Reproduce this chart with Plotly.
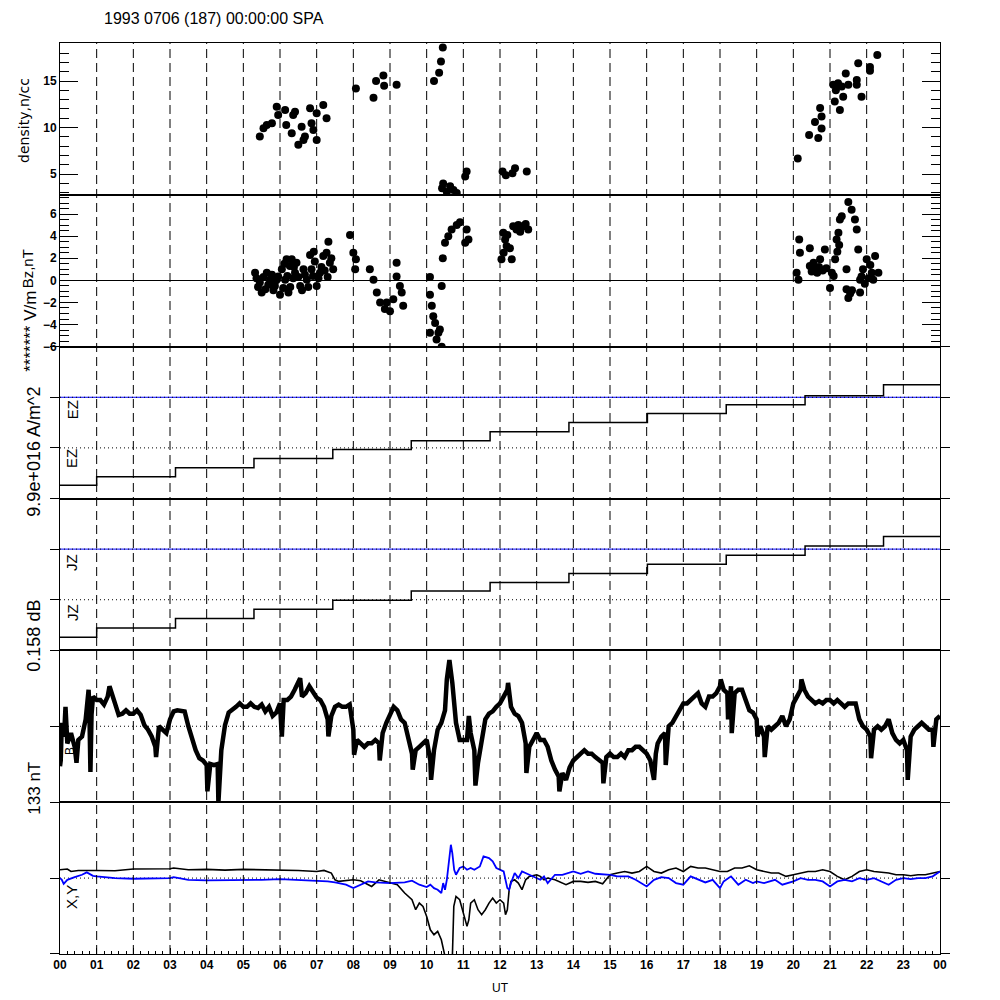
import plotly.graph_objects as go
from plotly.subplots import make_subplots

TITLE = "1993 0706 (187) 00:00:00 SPA"
hour_labels = ["00", "01", "02", "03", "04", "05", "06", "07", "08", "09", "10", "11",
               "12", "13", "14", "15", "16", "17", "18", "19", "20", "21", "22", "23", "00"]
hour_ticks = list(range(25))
dash_hours = list(range(1, 24))

# ---- density (n/cc) ----
dens_t = [5.45, 5.55, 5.64, 5.78, 5.91, 5.95, 6.14, 6.17, 6.41, 6.36, 6.32, 6.50, 6.64, 6.59, 6.68,
          6.82, 6.86, 7.00, 7.00, 7.18, 7.27, 6.91,
          8.07, 8.55, 8.62, 8.82, 8.84, 9.18,
          10.20, 10.34, 10.39, 10.44,
          10.42, 10.45, 10.55, 10.64, 10.73, 10.82, 11.05, 11.09,
          12.07, 12.16, 12.34, 12.41, 12.73,
          20.12, 20.43, 20.68, 20.59, 20.73, 20.77, 20.77, 21.13, 21.09, 21.22, 21.27, 21.36,
          21.43, 21.50, 21.73, 21.77, 21.86, 22.09, 22.09, 22.29, 21.16, 21.32, 21.73]
dens_v = [9.04, 9.94, 10.29, 10.47, 12.25, 11.36, 11.9, 10.29, 11.71, 11.36, 9.4, 8.15, 8.68, 10.1, 9.04,
          12.08, 10.47, 8.68, 11.54, 12.43, 11.0, 9.75,
          14.2, 13.2, 15.0, 15.6, 14.5, 14.6,
          15.0, 15.9, 17.1, 18.6,
          3.5, 4.0, 3.1, 3.7, 3.3, 3.0, 4.75, 5.3,
          5.3, 4.9, 5.1, 5.65, 5.3,
          6.68, 9.2, 8.9, 10.6, 12.1, 9.9, 11.2, 12.8, 14.6, 14.75, 11.9, 13.3,
          15.8, 14.6, 15.1, 16.9, 13.3, 16.5, 16.1, 17.8, 14.0, 14.4, 14.6]

# ---- Bz (nT) ----
bz_t = [5.32, 5.36, 5.45, 5.50, 5.64, 5.73, 5.86, 5.95, 6.00, 6.05, 6.14, 6.18, 6.23, 6.27, 6.32,
        6.41, 6.45, 6.55, 6.64, 6.73, 6.82, 6.86, 6.95, 7.00, 7.09, 7.18, 7.27, 7.32, 7.36, 7.45,
        5.40, 5.55, 5.60, 5.68, 5.78, 5.82, 5.90, 6.09, 6.20, 6.28, 6.36, 6.50, 6.60, 6.68,
        6.77, 6.90, 7.05, 7.13, 7.22, 7.40, 6.12, 6.38, 6.92, 7.30,
        7.91, 8.00, 8.05, 8.07, 8.45, 8.55, 8.64, 8.73, 8.86, 8.91, 9.00, 9.09, 9.18, 9.18, 9.27,
        9.32, 9.36,
        10.09, 10.09, 10.14, 10.18, 10.23, 10.09, 10.32, 10.36, 10.41, 10.41, 10.27,
        10.44, 10.50, 10.59, 10.68, 10.82, 10.91, 11.09, 11.14, 11.05,
        12.04, 12.09, 12.14, 12.18, 12.27, 12.32, 12.36, 12.50, 12.63, 12.77,
        12.10, 12.20, 12.45, 12.55, 12.70,
        20.09, 20.14, 20.16, 20.18, 20.45, 20.45, 20.59, 20.73, 20.86, 21.00, 21.05, 21.14,
        21.18, 21.23, 21.27, 21.32, 21.45, 21.45, 21.50, 21.50, 21.59, 21.68, 21.73, 21.77,
        21.82, 21.82, 21.86, 22.00, 22.14, 22.18, 22.23, 22.32,
        20.50, 20.55, 20.65, 20.70, 20.80, 20.90, 21.10, 21.20, 21.25, 21.90, 21.95, 22.05,
        22.10, 21.60, 21.55]
bz_v = [0.7, 0.2, -0.2, -1.1, 0.7, 0.06, -0.5, 0.35, -1.3, 1.0, 0.06, 1.9, -1.1, 1.3, 1.9,
        0.7, 1.6, -0.5, 1.0, 0.06, 2.3, 1.0, 1.7, -0.5, 0.7, 2.2, 2.5, 3.5, 1.6, 1.0,
        -0.6, 0.3, -0.8, -0.4, 0.5, -0.9, 0.0, -0.7, 0.4, -0.6, 0.2, 0.3, -0.9, 0.5,
        -0.6, 0.4, 0.2, 1.2, 0.9, 2.0, 1.5, 1.2, 2.6, 0.3,
        4.1, 2.5, 1.0, 1.9, 1.0, 0.06, -1.1, -2.0, -2.6, -2.0, -2.8, -1.7, 1.6, 0.35, -0.5,
        -1.1, -2.3,
        0.3, -1.3, -2.3, -3.25, -3.85, -4.75, -4.75, -4.45, -0.5, -6.0, -5.35,
        2.0, 3.4, 4.0, 4.6, 5.0, 5.25, 4.6, 3.7, 3.4,
        1.9, 4.3, 3.7, 3.1, 2.9, 1.9, 4.9, 5.0, 4.9, 4.6,
        2.5, 4.1, 4.6, 4.4, 5.1,
        0.7, 0.06, 3.7, 2.5, 2.9, 1.3, 1.0, 1.9, 2.8, -0.7, 0.7, 1.9,
        3.7, 4.3, 5.5, 5.8, 1.0, -0.8, -1.6, 7.1, 6.4, 5.5, 4.6, 2.8,
        -1.1, 0.06, 0.35, 1.9, 0.7, 0.06, 2.2, 0.7,
        0.8, 1.6, 0.7, 1.2, 0.9, 1.1, 0.4, 2.6, 3.2, 1.0, -0.3, 0.2,
        1.4, -0.9, -1.2]

# ---- EZ / JZ staircases (panel units) ----
step_t = [0.0, 1.0, 3.15, 5.29, 7.44, 9.58, 11.73, 13.88, 16.02, 18.17, 20.32, 22.46, 24.0]
ez_v = [0.26, 0.43, 0.61, 0.79, 0.97, 1.14, 1.32, 1.50, 1.68, 1.85, 2.03, 2.25, 2.25]
jz_v = [0.26, 0.44, 0.63, 0.81, 0.99, 1.17, 1.34, 1.52, 1.70, 1.88, 2.06, 2.25, 2.25]
ref_blue = 2.0
ref_dot = [1.0, 2.0]

# ---- B (nT, deviation) ----
b_t = [0.00, 0.02, 0.05, 0.08, 0.12, 0.15, 0.20, 0.30, 0.40, 0.45,
       0.50, 0.60, 0.70, 0.78, 0.80, 0.83, 0.86, 0.90, 1.00, 1.10,
       1.20, 1.30, 1.35, 1.40, 1.50, 1.60, 1.70, 1.80, 1.90, 2.00,
       2.10, 2.20, 2.30, 2.40, 2.50, 2.60, 2.62, 2.70, 2.80, 2.90,
       3.00, 3.10, 3.20, 3.30, 3.40, 3.50, 3.60, 3.70, 3.80, 3.90,
       4.00, 4.02, 4.10, 4.20, 4.30, 4.32, 4.40, 4.50, 4.60, 4.70,
       4.80, 4.90, 5.00, 5.10, 5.20, 5.30, 5.40, 5.50, 5.60, 5.70,
       5.80, 5.90, 6.00, 6.05, 6.10, 6.20, 6.30, 6.40, 6.50, 6.55,
       6.60, 6.70, 6.80, 6.90, 7.00, 7.10, 7.20, 7.30, 7.32, 7.40,
       7.50, 7.60, 7.70, 7.80, 7.90, 8.00, 8.02, 8.10, 8.20, 8.30,
       8.40, 8.50, 8.60, 8.70, 8.72, 8.80, 8.90, 9.00, 9.10, 9.20,
       9.30, 9.40, 9.50, 9.60, 9.62, 9.70, 9.80, 9.90, 10.00, 10.10,
       10.12, 10.20, 10.30, 10.40, 10.50, 10.55, 10.60, 10.62, 10.70, 10.80,
       10.90, 11.00, 11.10, 11.15, 11.20, 11.30, 11.33, 11.40, 11.50, 11.60,
       11.70, 11.80, 11.90, 12.00, 12.10, 12.20, 12.22, 12.30, 12.40, 12.50,
       12.60, 12.70, 12.72, 12.80, 12.90, 13.00, 13.10, 13.20, 13.30, 13.40,
       13.50, 13.60, 13.62, 13.70, 13.80, 13.90, 14.00, 14.10, 14.20, 14.30,
       14.40, 14.50, 14.60, 14.70, 14.80, 14.82, 14.90, 15.00, 15.10, 15.20,
       15.30, 15.40, 15.50, 15.60, 15.70, 15.80, 15.90, 16.00, 16.10, 16.20,
       16.25, 16.30, 16.40, 16.50, 16.52, 16.60, 16.70, 16.80, 16.90, 17.00,
       17.10, 17.20, 17.30, 17.40, 17.50, 17.60, 17.70, 17.80, 17.90, 18.00,
       18.02, 18.10, 18.20, 18.22, 18.30, 18.32, 18.40, 18.50, 18.60, 18.70,
       18.80, 18.90, 19.00, 19.02, 19.10, 19.20, 19.22, 19.30, 19.40, 19.50,
       19.60, 19.70, 19.80, 19.90, 20.00, 20.10, 20.20, 20.22, 20.30, 20.40,
       20.50, 20.60, 20.70, 20.80, 20.90, 21.00, 21.10, 21.20, 21.30, 21.40,
       21.50, 21.60, 21.70, 21.80, 21.90, 22.00, 22.10, 22.12, 22.20, 22.30,
       22.40, 22.50, 22.60, 22.70, 22.80, 22.90, 23.00, 23.10, 23.12, 23.20,
       23.30, 23.40, 23.50, 23.60, 23.70, 23.80, 23.82, 23.90, 24.00]
b_v = [-35, -30, 3, -9, -3, 17, -15, -6, -18, -32,
       -12, -9, 6, 32, 17, -40, 10, 26, 23, 23,
       19, 26, 35, 29, 20, 10, 11, 14, 11, 11,
       14, 10, 1, -3, -9, -18, -27, 0, -3, -6,
       6, 13, 14, 13, 13, 0, -12, -21, -28, -30,
       -34, -57, -33, -34, -33, -67, -21, 1, 12, 14,
       17, 20, 17, 17, 20, 17, 16, 19, 13, 17,
       9, 12, 20, -9, 23, 23, 26, 32, 38, 42,
       26, 29, 35, 29, 25, 23, 17, 6, -9, 9,
       17, 19, 17, 17, 19, -3, -25, -12, -15, -18,
       -15, -15, -12, -15, -30, -6, 3, 11, 17, 14,
       6, 3, -9, -24, -38, -21, -18, -15, -12, -30,
       -47, -21, -3, 3, 14, 41, 53, 58, 38, 3,
       -12, -12, -12, 9, -6, -21, -52, -32, -12, 6,
       11, 13, 17, 20, 26, 32, 38, 17, 11, 9,
       3, -15, -41, -18, -12, -6, -12, -12, -18, -30,
       -38, -44, -57, -41, -47, -36, -30, -27, -24, -21,
       -24, -24, -27, -30, -32, -50, -27, -24, -27, -27,
       -24, -27, -21, -21, -18, -18, -21, -24, -30, -47,
       -24, -15, -9, -6, -34, 0, 3, 9, 14, 20,
       20, 23, 26, 29, 20, 17, 26, 26, 29, 35,
       41, 32, 29, 6, 35, -6, 29, 32, 32, 23,
       14, 12, 6, -9, 0, -9, -27, 0, -3, 0,
       3, 9, 0, 6, 20, 26, 32, 41, 32, 26,
       23, 20, 22, 20, 23, 23, 20, 23, 20, 17,
       20, 20, 20, 6, 0, -3, -9, -28, -3, 0,
       -3, 0, 6, -6, -12, -15, -12, -21, -47, -9,
       -3, 0, 3, 0, -3, -3, -18, 6, 9]

# ---- X (black) and Y (blue), nT deviation ----
x_t = [0.0, 0.2, 0.3, 0.5, 1.0, 1.5, 2.0, 2.5, 3.0, 3.1,
       3.5, 4.0, 4.5, 5.0, 5.5, 6.0, 6.5, 7.0, 7.2, 7.4,
       7.5, 7.6, 8.0, 8.2, 8.5, 8.7, 9.0, 9.2, 9.4, 9.5,
       9.6, 9.7, 9.8, 9.9, 10.0, 10.1, 10.2, 10.3, 10.4, 10.5,
       10.7, 10.74, 10.8, 10.9, 11.0, 11.1, 11.15, 11.2, 11.3, 11.4,
       11.5, 11.6, 11.7, 11.8, 11.9, 12.0, 12.1, 12.15, 12.2, 12.25,
       12.3, 12.4, 12.5, 12.6, 12.7, 12.8, 13.0, 13.1, 13.2, 13.3,
       13.5, 13.7, 13.8, 14.0, 14.2, 14.4, 14.6, 14.8, 15.0, 15.2,
       15.4, 15.6, 15.8, 16.0, 16.2, 16.4, 16.6, 16.8, 17.0, 17.2,
       17.4, 17.6, 17.8, 18.0, 18.2, 18.4, 18.6, 18.8, 19.0, 19.2,
       19.4, 19.6, 19.8, 20.0, 20.2, 20.4, 20.6, 20.8, 21.0, 21.2,
       21.4, 21.6, 21.8, 22.0, 22.2, 22.4, 22.6, 22.8, 23.0, 23.2,
       23.4, 23.6, 23.8, 24.0]
x_v = [7.3, 7.9, 5.8, 6.7, 6.7, 6.4, 7.9, 7.9, 8.2, 8.8,
       7.3, 7.6, 7.0, 7.6, 7.3, 7.3, 6.7, 5.8, 6.7, 4.4,
       -1.5, -2.9, -1.5, -2.3, -7.3, -1.5, -4.4, -5.8, -13.1, -16.1,
       -19.0, -27.7, -21.9, -24.8, -33.6, -45.3, -49.6, -46.7, -54.0, -68.6,
       -70.0, -24.8, -16.1, -19.0, -30.7, -42.3, -36.5, -21.9, -19.0, -27.7,
       -32.1, -27.7, -21.9, -17.5, -21.9, -19.0, -21.9, -32.1, -27.7, -10.2,
       -2.9, -1.5, -4.4, -10.2, -1.5, 1.5, 2.9, 1.5, -1.5, 0.0,
       -1.5, -4.4, -5.8, -2.9, -2.9, -3.8, -2.9, -5.0, 2.9, 4.4,
       5.8, 4.4, 5.8, 10.2, 5.8, 4.4, 7.3, 8.8, 5.8, 10.2,
       8.8, 8.8, 7.3, 5.8, 5.8, 8.8, 8.8, 10.8, 7.3, 5.8,
       4.4, 4.4, 1.5, 2.9, 4.4, 5.8, 5.8, 7.3, 5.8, 1.5,
       -1.5, 1.5, 5.8, 7.3, 5.8, 5.0, 4.4, 2.9, 2.9, 2.0,
       2.9, 2.9, 4.4, 5.8]
y_t = [0.0, 0.05, 0.1, 0.2, 0.4, 0.6, 0.73, 0.9, 1.0, 1.5,
       2.0, 2.5, 3.0, 3.1, 3.5, 4.0, 4.5, 5.0, 5.5, 6.0,
       6.5, 7.0, 7.3, 7.5, 7.8, 8.0, 8.2, 8.4, 8.6, 9.0,
       9.4, 9.6, 9.8, 10.0, 10.1, 10.2, 10.3, 10.4, 10.45, 10.5,
       10.55, 10.6, 10.66, 10.7, 10.75, 10.8, 10.9, 11.0, 11.1, 11.2,
       11.3, 11.45, 11.55, 11.7, 11.8, 11.9, 12.0, 12.1, 12.2, 12.25,
       12.3, 12.4, 12.5, 12.6, 12.8, 13.0, 13.1, 13.2, 13.3, 13.5,
       13.7, 14.0, 14.2, 14.4, 14.6, 15.0, 15.2, 15.5, 15.7, 16.0,
       16.2, 16.4, 16.6, 16.8, 17.0, 17.2, 17.4, 17.6, 17.8, 18.0,
       18.1, 18.3, 18.5, 18.7, 18.9, 19.0, 19.2, 19.5, 19.7, 20.0,
       20.2, 20.4, 20.6, 20.8, 21.0, 21.2, 21.4, 21.6, 21.8, 22.0,
       22.2, 22.4, 22.6, 22.8, 23.0, 23.2, 23.4, 23.6, 23.8, 24.0]
y_v = [0.0, -1.5, -5.0, -1.5, 0.9, 2.9, 5.0, 2.0, 1.5, 0.0,
       -0.6, -0.6, 0.0, 0.9, -1.5, -2.0, -2.0, -1.8, -1.5, -0.9,
       -1.5, -2.3, -2.9, -3.8, -5.8, -8.8, -5.8, -2.9, -3.8, -4.4,
       -3.8, -2.3, -5.8, -7.9, -5.8, -8.8, -10.2, -13.1, -4.4, -10.2,
       -1.5, 14.6, 29.2, 21.9, 7.3, 2.9, 8.8, 10.2, 7.3, 8.8,
       7.3, 10.2, 19.0, 17.5, 14.6, 8.8, 7.3, 5.8, -8.8, -10.2,
       -4.4, 4.4, 0.0, 5.8, 2.9, 0.0, -1.5, 1.5, -4.4, 2.9,
       2.9, 5.8, 3.8, 5.8, 3.8, 2.9, 1.5, 1.5, -1.5, -7.3,
       -1.5, 0.9, 0.0, -4.4, -5.8, 1.5, -1.5, -3.8, -1.5, -8.8,
       -2.9, 1.5, -5.8, -1.5, -4.4, -2.9, -4.4, -1.5, -5.8, -2.9,
       0.0, -1.5, -1.5, -2.9, -7.3, -2.9, -1.5, -2.9, 0.0, -1.5,
       0.0, -2.9, -5.8, -1.5, 0.0, -0.9, 0.0, 0.0, 1.5, 5.8]

B_HALF = 66.5   # half-span of the B / X,Y panels, nT
FONT = "Liberation Sans"
WIDE = "DejaVu Sans"

fig = make_subplots(rows=6, cols=1, shared_xaxes=True, vertical_spacing=0)

fig.add_trace(go.Scatter(x=dens_t, y=dens_v, mode="markers",
                         marker=dict(color="black", size=8), cliponaxis=True), row=1, col=1)
fig.add_trace(go.Scatter(x=bz_t, y=bz_v, mode="markers",
                         marker=dict(color="black", size=8), cliponaxis=True), row=2, col=1)

for row, vals in ((3, ez_v), (4, jz_v)):
    fig.add_trace(go.Scatter(x=[0, 24], y=[ref_blue, ref_blue], mode="lines",
                             line=dict(color="#0000ff", width=1)), row=row, col=1)
    for lv in ref_dot:
        fig.add_trace(go.Scatter(x=[0, 24], y=[lv, lv], mode="lines",
                                 line=dict(color="black", width=1, dash="1px,3px")), row=row, col=1)
    fig.add_trace(go.Scatter(x=step_t, y=vals, mode="lines", line_shape="hv",
                             line=dict(color="black", width=1.5)), row=row, col=1)

fig.add_trace(go.Scatter(x=[0, 24], y=[0, 0], mode="lines",
                         line=dict(color="black", width=1, dash="1px,3px")), row=5, col=1)
fig.add_trace(go.Scatter(x=b_t, y=b_v, mode="lines",
                         line=dict(color="black", width=4.5)), row=5, col=1)

fig.add_trace(go.Scatter(x=[0, 24], y=[0, 0], mode="lines",
                         line=dict(color="black", width=1, dash="1px,3px")), row=6, col=1)
fig.add_trace(go.Scatter(x=x_t, y=x_v, mode="lines",
                         line=dict(color="black", width=1.6)), row=6, col=1)
fig.add_trace(go.Scatter(x=y_t, y=y_v, mode="lines",
                         line=dict(color="#0000ff", width=1.8)), row=6, col=1)

# dashed hour lines across all panels
for h in dash_hours:
    fig.add_shape(type="line", xref="x", yref="paper", x0=h, x1=h, y0=0, y1=1,
                  line=dict(color="black", width=1, dash="9px,5px"), layer="above")

tickfont = dict(family=FONT, size=12, color="black", weight="bold")
for r in range(1, 7):
    fig.update_xaxes(row=r, col=1, range=[0, 24], showline=True, mirror=True,
                     linecolor="black", linewidth=1, showgrid=False, zeroline=False,
                     ticks="", showticklabels=False)
fig.update_xaxes(row=6, col=1, tickvals=hour_ticks, ticktext=hour_labels, showticklabels=True,
                 ticks="inside", ticklen=6, tickcolor="black",
                 minor=dict(dtick=0.2, ticklen=3, ticks="inside", tickcolor="black"),
                 tickfont=tickfont)

common_y = dict(showline=True, mirror="ticks", linecolor="black", linewidth=1,
                showgrid=False, tickcolor="black")
fig.update_yaxes(row=1, col=1, range=[2.79, 19.08], tickvals=[5, 10, 15], ticks="inside",
                 ticklen=18, minor=dict(dtick=1, ticklen=9, ticks="inside", tickcolor="black"),
                 zeroline=False, tickfont=tickfont, **common_y)
fig.update_yaxes(row=2, col=1, range=[-6, 7.74], tickvals=[-6, -4, -2, 0, 2, 4, 6], ticks="inside",
                 ticklen=18, minor=dict(dtick=0.5, ticklen=9, ticks="inside", tickcolor="black"),
                 zeroline=True, zerolinecolor="black", zerolinewidth=1, tickfont=tickfont, **common_y)
for r in (3, 4):
    fig.update_yaxes(row=r, col=1, range=[0, 3], tickvals=[0, 1, 2, 3], ticks="outside", ticklen=9,
                     showticklabels=False, zeroline=False, **common_y)
for r in (5, 6):
    fig.update_yaxes(row=r, col=1, range=[-B_HALF, B_HALF], tickvals=[-B_HALF, 0, B_HALF],
                     ticks="outside", ticklen=9, showticklabels=False, zeroline=False, **common_y)

def ann(text, x, y, size, angle=0, xanchor="center", yanchor="middle", family=FONT):
    fig.add_annotation(text=text, xref="paper", yref="paper", x=x, y=y, showarrow=False,
                       textangle=angle, xanchor=xanchor, yanchor=yanchor,
                       font=dict(family=family, size=size, color="black"))

ann(TITLE, 0.0477, 1.0384, 16, xanchor="left", yanchor="top")
ann("density,n/cc", -0.041, 0.9155, 14, -90, family=WIDE)
ann("******* V/m", -0.033, 0.684, 17, -90)
ann("Bz,nT", -0.037, 0.752, 15, -90)
ann("9.9e+016 A/m^2", -0.030, 0.551, 18, -90)
ann("0.158 dB", -0.030, 0.349, 18, -90)
ann("133 nT", -0.029, 0.182, 17, -90)
ann("EZ", 0.0136, 0.598, 15, -90)
ann("EZ", 0.0136, 0.5445, 15, -90)
ann("JZ", 0.0136, 0.4303, 15, -90)
ann("JZ", 0.0136, 0.3754, 15, -90)
ann("B", 0.0114, 0.2228, 12, -90)
ann("X,Y", 0.0136, 0.0626, 15, -90)
ann("UT", 0.5, -0.0373, 12)

# the page body adds an 8px offset, so the margins are shifted to compensate
fig.update_layout(width=1000, height=1000, showlegend=False,
                  margin=dict(l=52, r=68, t=35, b=54),
                  paper_bgcolor="white", plot_bgcolor="white",
                  font=dict(family=FONT, color="black"))

fig.write_html("out.html")
